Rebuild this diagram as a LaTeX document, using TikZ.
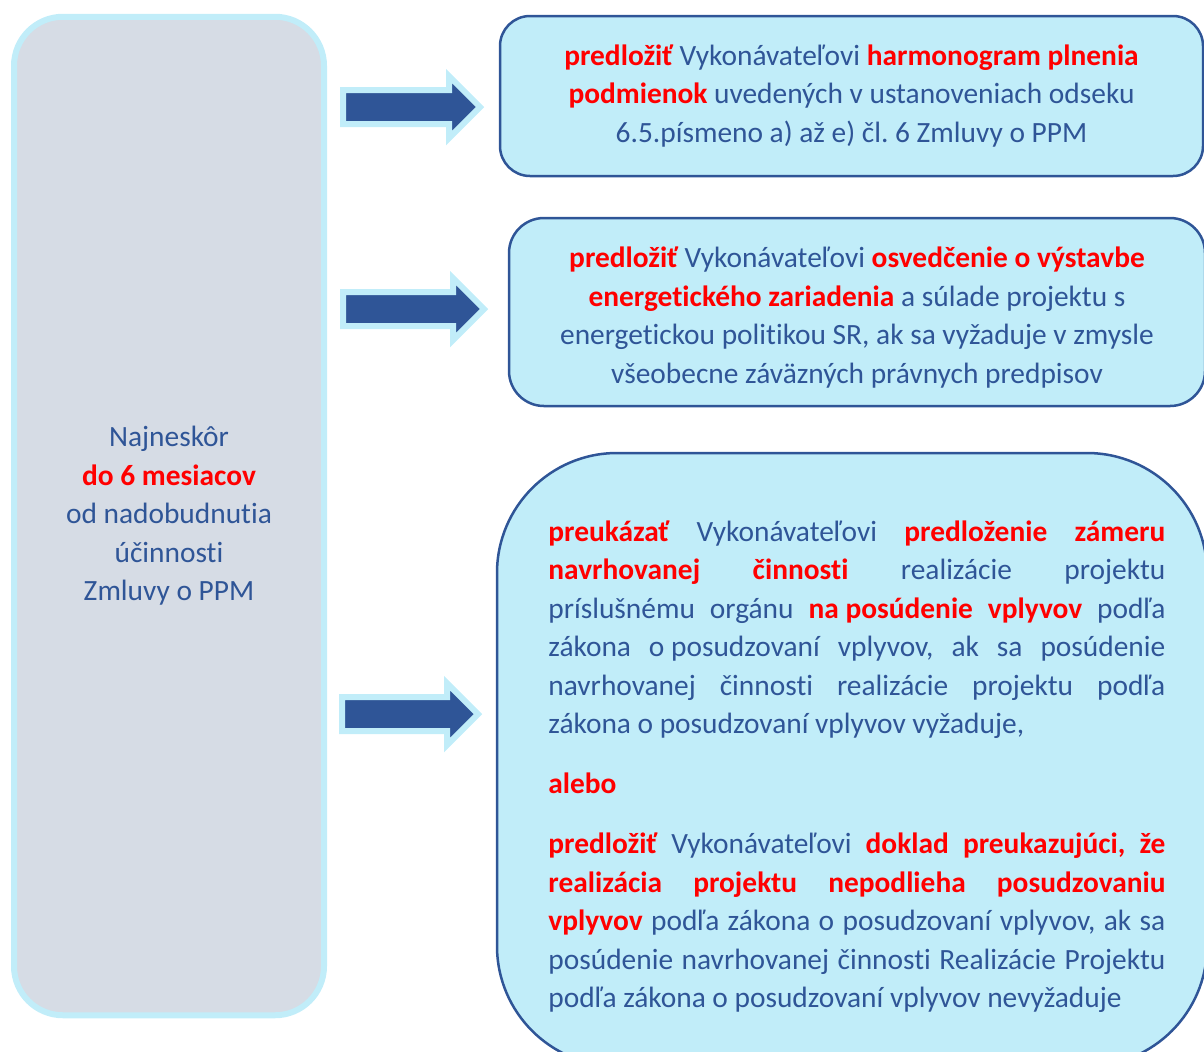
\documentclass[tikz,border=0pt]{standalone}
\usepackage{fontspec}
\setmainfont{Carlito}[RawFeature={-liga;-clig;-dlig;-calt}]
\setlength{\parindent}{0pt}
\hyphenpenalty=10000
\exhyphenpenalty=10000
\frenchspacing
\definecolor{txtblue}{HTML}{2F5597}
\definecolor{boxcyan}{HTML}{C1EDF9}
\definecolor{leftgray}{HTML}{D6DCE5}
\definecolor{hlred}{HTML}{FF0000}
\newcommand{\hl}[1]{\textbf{\textcolor{hlred}{#1}}}
\tikzset{
  infobox/.style={draw=txtblue, line width=1.25pt, fill=boxcyan, text=txtblue, align=center, inner sep=0pt},
  bluearrow/.style={draw=boxcyan, fill=txtblue, line width=3pt},
}

\begin{document}
\begin{tikzpicture}[x=0.5pt, y=-0.5pt, font=\fontsize{14.7}{19.25}\selectfont]
\clip (0,0) rectangle (1204,1051);
\node[draw=boxcyan, line width=3pt, fill=leftgray, rounded corners=24.5pt, minimum width=155pt, minimum height=499.25pt, text=txtblue, align=center, inner sep=0pt] (termbox) at (169,516)
  {Najneskôr\\\hl{do 6 mesiacov}\\od nadobudnutia\\účinnosti\\Zmluvy o PPM};
\draw[bluearrow] (343,90) -- (449,90) -- (449,76) -- (480,107) -- (449,138) -- (449,124) -- (343,124) -- cycle;
\draw[bluearrow] (343,292) -- (453,292) -- (453,278) -- (484,309) -- (453,340) -- (453,326) -- (343,326) -- cycle;
\draw[bluearrow] (342,697) -- (447,697) -- (447,683) -- (478,714) -- (447,745) -- (447,731) -- (342,731) -- cycle;
\node[infobox, minimum width=351.5pt, minimum height=80pt, rounded corners=15pt] (harmbox) at (851.5,96)
  {\hl{predložiť} Vykonávateľovi \hl{harmonogram plnenia}\\\hl{podmienok} uvedených v ustanoveniach odseku\\6.5.písmeno a) až e) čl. 6 Zmluvy o PPM};
\node[infobox, minimum width=348pt, minimum height=94pt, rounded corners=17.5pt] (certbox) at (857,312)
  {\rule{0pt}{16pt}\hl{predložiť} Vykonávateľovi \hl{osvedčenie o výstavbe}\\\hl{energetického zariadenia} a súlade projektu s\\energetickou politikou SR, ak sa vyžaduje v zmysle\\všeobecne záväzných právnych predpisov};
\node[infobox, minimum width=355pt, minimum height=306.5pt, rounded corners=60pt] (eiabox) at (852,759.5) {};
\node[anchor=north west, text width=308.5pt, align=justify, inner sep=0pt, text=txtblue] (eiatext) at (548,520)
  {\hl{preukázať} Vykonávateľovi \hl{predloženie zámeru}\linebreak
  \hl{navrhovanej činnosti} realizácie projektu\linebreak
  príslušnému orgánu \hl{\mbox{na posúdenie} vplyvov} podľa\linebreak
  zákona \mbox{o posudzovaní} vplyvov, ak sa posúdenie\linebreak
  navrhovanej činnosti realizácie projektu podľa\linebreak
  zákona o posudzovaní vplyvov vyžaduje,\par\vspace{10.75pt}
  \hl{alebo}\par\vspace{10.75pt}
  \hl{predložiť} Vykonávateľovi \hl{doklad preukazujúci, že}\linebreak
  \hl{realizácia projektu nepodlieha posudzovaniu}\linebreak
  \hl{vplyvov} podľa zákona o posudzovaní vplyvov, ak sa\linebreak
  posúdenie navrhovanej činnosti Realizácie Projektu\linebreak
  podľa zákona o posudzovaní vplyvov nevyžaduje};
\end{tikzpicture}
\end{document}
